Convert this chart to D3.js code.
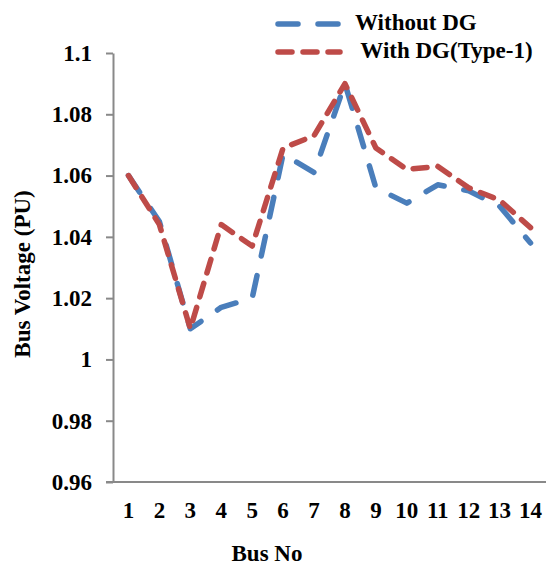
<!DOCTYPE html>
<html>
<head>
<meta charset="utf-8">
<script src="https://cdn.jsdelivr.net/npm/d3@7"></script>
<style>
  html, body { margin: 0; padding: 0; background: #fff; }
  text { font-family: "Liberation Serif", "Times New Roman", serif; font-weight: bold; fill: #000; }
</style>
</head>
<body>
<svg id="chart" width="546" height="567"></svg>
<script>
// Bus numbers of the 14-bus system
const buses = [1, 2, 3, 4, 5, 6, 7, 8, 9, 10, 11, 12, 13, 14];
// Bus voltage (PU) without distributed generation
const withoutDG = [1.060, 1.045, 1.010, 1.017, 1.020, 1.067, 1.061, 1.090, 1.056, 1.051, 1.057, 1.055, 1.050, 1.038];
// Bus voltage (PU) with a Type-1 DG unit
const withDG = [1.060, 1.044, 1.010, 1.044, 1.037, 1.069, 1.073, 1.090, 1.069, 1.062, 1.063, 1.056, 1.052, 1.043];
// Y axis tick values and labels
const yTicks = [0.96, 0.98, 1.00, 1.02, 1.04, 1.06, 1.08, 1.10];
const yTickLabels = ["0.96", "0.98", "1", "1.02", "1.04", "1.06", "1.08", "1.1"];
const seriesNames = ["Without DG", " With DG(Type-1)"];

const svg = d3.select("#chart");
const plotLeft = 113, plotRight = 546, plotTop = 53, plotBottom = 482;
const fontSize = "23px";

const x = d3.scaleBand().domain(buses).range([plotLeft, plotRight]);
const y = d3.scaleLinear().domain([0.96, 1.10]).range([plotBottom, plotTop]);

const axisColor = "#898989";

// Y axis
const yAxis = d3.axisLeft(y)
  .tickValues(yTicks)
  .tickSize(7)
  .tickSizeOuter(0)
  .tickPadding(14)
  .tickFormat((d, i) => yTickLabels[i]);
const gy = svg.append("g").attr("transform", `translate(${plotLeft},0)`).call(yAxis);
gy.selectAll("path, line").attr("stroke", axisColor).attr("stroke-width", 2);
gy.selectAll("text").style("font-size", fontSize).style("font-family", "Liberation Serif").style("font-weight", "bold");

// X axis (no tick marks, labels centred in each band)
const xAxis = d3.axisBottom(x).tickSize(0).tickSizeOuter(0).tickPadding(20);
const gx = svg.append("g").attr("transform", `translate(0,${plotBottom})`).call(xAxis);
gx.selectAll("path").attr("stroke", axisColor).attr("stroke-width", 2);
gx.select("path.domain").attr("d", `M${plotLeft - 7},0H${plotRight}`);
gx.selectAll("text").style("font-size", fontSize).style("font-family", "Liberation Serif").style("font-weight", "bold");

// Lines
const line = d3.line()
  .x((d, i) => x(buses[i]) + x.bandwidth() / 2)
  .y(d => y(d));

const series = [
  { name: seriesNames[0], values: withoutDG, color: "#4a7ebb", dash: "20,20" },
  { name: seriesNames[1], values: withDG, color: "#be4b48", dash: "14,11" }
];

series.forEach(s => {
  svg.append("path")
    .datum(s.values)
    .attr("d", line)
    .attr("fill", "none")
    .attr("stroke", s.color)
    .attr("stroke-width", 5.5)
    .attr("stroke-linecap", "round")
    .attr("stroke-linejoin", "round")
    .attr("stroke-dasharray", s.dash);
});

// Legend
const legend = svg.append("g");
series.forEach((s, i) => {
  const ly = 24 + i * 28;
  legend.append("line")
    .attr("x1", 278).attr("x2", 340)
    .attr("y1", ly).attr("y2", ly)
    .attr("stroke", s.color)
    .attr("stroke-width", 5.5)
    .attr("stroke-linecap", "round")
    .attr("stroke-dasharray", s.dash);
  legend.append("text")
    .attr("x", 355).attr("y", ly + 6)
    .attr("xml:space", "preserve")
    .style("font-size", fontSize)
    .text(s.name);
});

// Axis titles
svg.append("text")
  .attr("x", 267).attr("y", 561)
  .attr("text-anchor", "middle")
  .style("font-size", fontSize)
  .text("Bus No");

svg.append("text")
  .attr("transform", `translate(30,274) rotate(-90)`)
  .attr("text-anchor", "middle")
  .style("font-size", fontSize)
  .text("Bus Voltage (PU)");
</script>
</body>
</html>
